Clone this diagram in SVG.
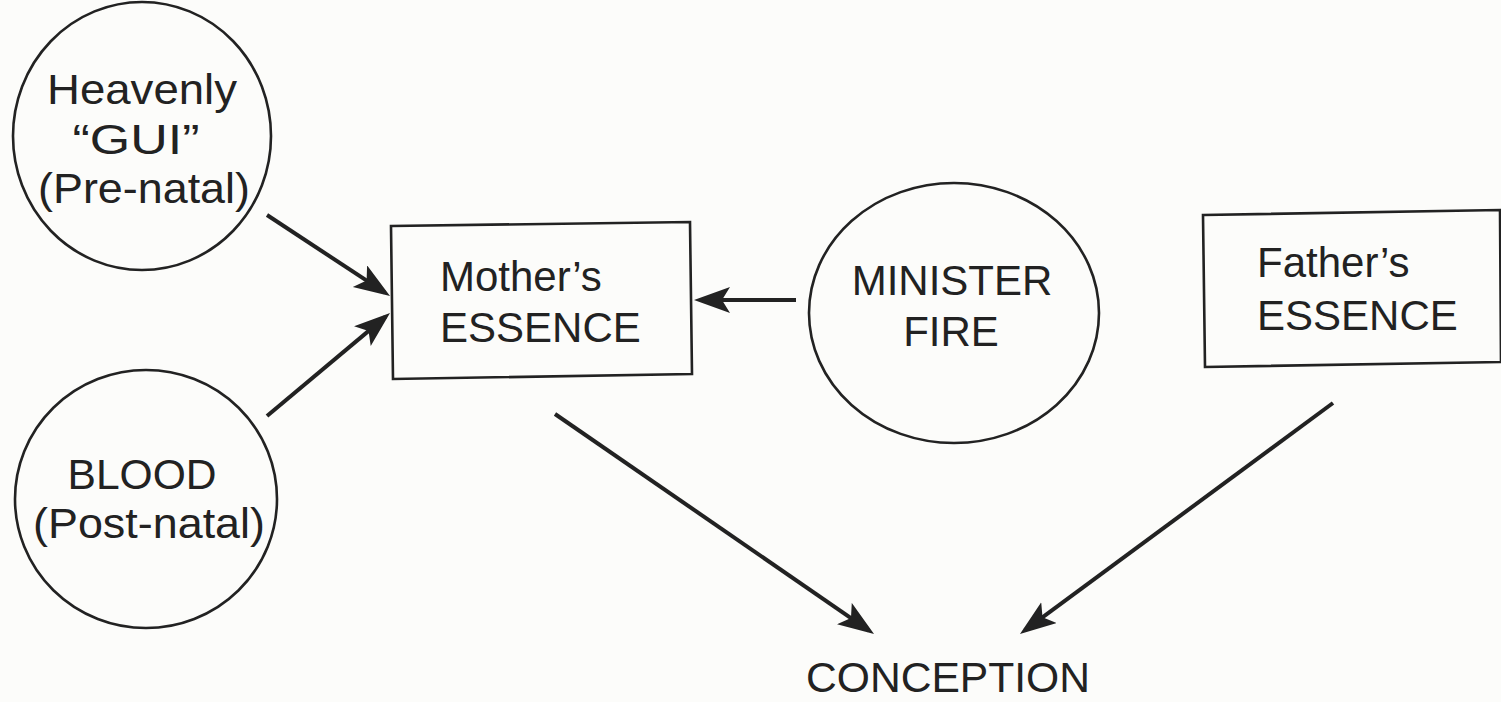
<svg xmlns="http://www.w3.org/2000/svg" width="1501" height="702" viewBox="0 0 1501 702">
<defs>
<style>
.bg{fill:#fcfcfa}
.shape{fill:none;stroke:#222;stroke-width:2.6}
.lbl{font-family:"Liberation Sans",Arial,sans-serif;font-size:42px;fill:#222}
.mid{text-anchor:middle}
.conn{stroke:#222;stroke-width:4;fill:none}
</style>
<marker id="ah" markerUnits="userSpaceOnUse" markerWidth="40" markerHeight="30" viewBox="0 0 40 30" refX="30" refY="13" orient="auto">
<path d="M0,0 L36,13 L0,26 L8,13 z" fill="#222"/>
</marker>
</defs>
<rect class="bg" x="0" y="0" width="1501" height="702"/>
<g id="heavenly-gui">
<ellipse class="shape" cx="142" cy="136" rx="129" ry="134"/>
<text class="lbl mid" x="142" y="104" textLength="190" lengthAdjust="spacingAndGlyphs">Heavenly</text>
<text class="lbl mid" x="136" y="154" textLength="127" lengthAdjust="spacingAndGlyphs">“GUI”</text>
<text class="lbl mid" x="144" y="203" textLength="212" lengthAdjust="spacingAndGlyphs">(Pre-natal)</text>
</g>
<g id="blood">
<ellipse class="shape" cx="146" cy="499" rx="131" ry="129"/>
<text class="lbl mid" x="142" y="489" textLength="149" lengthAdjust="spacingAndGlyphs">BLOOD</text>
<text class="lbl mid" x="149" y="538" textLength="232" lengthAdjust="spacingAndGlyphs">(Post-natal)</text>
</g>
<g id="mothers-essence">
<path class="shape" d="M391,226 L690,222 L692,374 L393,379 Z"/>
<text class="lbl" x="440" y="291">Mother’s</text>
<text class="lbl" x="440" y="342">ESSENCE</text>
</g>
<g id="minister-fire">
<ellipse class="shape" cx="954" cy="313" rx="145" ry="130"/>
<text class="lbl mid" x="952" y="295">MINISTER</text>
<text class="lbl mid" x="951" y="346">FIRE</text>
</g>
<g id="fathers-essence">
<path class="shape" d="M1203,215 L1500,210 L1501,362 L1205,367 Z"/>
<text class="lbl" x="1257" y="277">Father’s</text>
<text class="lbl" x="1257" y="330">ESSENCE</text>
</g>
<g id="conception">
<text class="lbl" x="806" y="692" textLength="284" lengthAdjust="spacingAndGlyphs">CONCEPTION</text>
</g>
<g id="connectors">
<line class="conn" x1="267" y1="215" x2="385" y2="292.7" marker-end="url(#ah)"/>
<line class="conn" x1="267" y1="416" x2="385.4" y2="316.9" marker-end="url(#ah)"/>
<line class="conn" x1="796" y1="300" x2="700" y2="300" marker-end="url(#ah)"/>
<line class="conn" x1="555" y1="414" x2="869.1" y2="630.6" marker-end="url(#ah)"/>
<line class="conn" x1="1333" y1="403" x2="1024.8" y2="630.4" marker-end="url(#ah)"/>
</g>
</svg>
